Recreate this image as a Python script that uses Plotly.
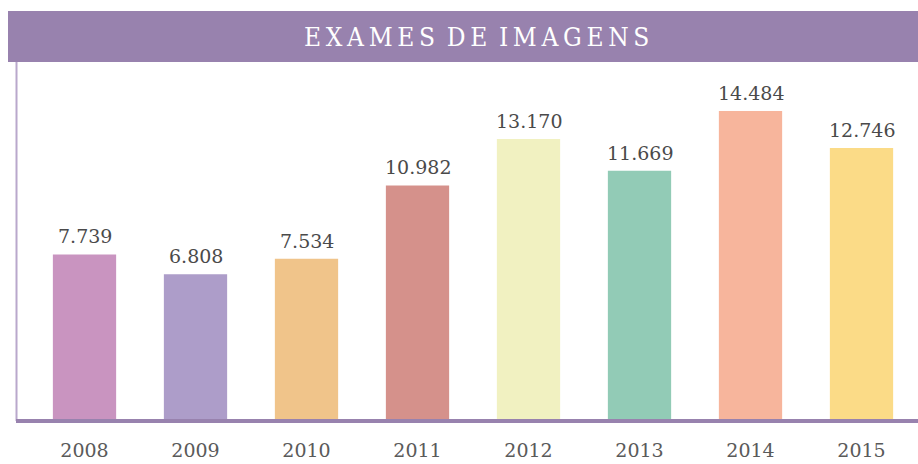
import plotly.graph_objects as go

years = ["2008", "2009", "2010", "2011", "2012", "2013", "2014", "2015"]
values = [7739, 6808, 7534, 10982, 13170, 11669, 14484, 12746]
labels = ["7.739", "6.808", "7.534", "10.982", "13.170", "11.669", "14.484", "12.746"]
colors = ["#c994c0", "#ad9dc9", "#f0c48a", "#d5918b", "#f1f1c1", "#92cbb6", "#f7b59c", "#fbdb87"]
title = "EXAMES DE IMAGENS"

W, H = 918, 464
ml, mr, mt, mb = 29, 1, 62, 45

fig = go.Figure()
fig.add_trace(go.Bar(
    x=years, y=values, marker=dict(color=colors, line=dict(width=0)),
    width=0.57, hoverinfo="skip",
))

for i, (v, lab) in enumerate(zip(values, labels)):
    fig.add_annotation(x=i, y=v, xref="x", yref="y", text=lab, showarrow=False,
                       yanchor="bottom", yshift=5,
                       font=dict(family="DejaVu Serif", size=19, color="#4a4a4a"))

pw = W - ml - mr
ph = H - mt - mb
# title band
fig.add_shape(type="rect", xref="paper", yref="paper",
              x0=(8 - ml) / pw, x1=(W - ml) / pw, y0=1, y1=1 + 51 / ph,
              fillcolor="#9882ae", line=dict(width=0), layer="below")
spaced = "\u2009".join(title).replace("\u2009 \u2009", "\u2002")
fig.add_annotation(xref="paper", yref="paper", x=(477 - ml) / pw, y=1 + 25 / ph,
                   text=spaced, showarrow=False, yanchor="middle",
                   font=dict(family="DejaVu Serif Condensed", size=26, color="white"))
# left line
fig.add_shape(type="line", xref="paper", yref="paper",
              x0=(16.5 - ml) / pw, x1=(16.5 - ml) / pw, y0=-2 / ph, y1=1,
              line=dict(color="#b9a8cc", width=2))
# baseline
fig.add_shape(type="line", xref="paper", yref="paper",
              x0=(16 - ml) / pw, x1=1.01, y0=-2 / ph, y1=-2 / ph,
              line=dict(color="#9882ae", width=4))

fig.update_layout(
    width=W, height=H, margin=dict(l=ml, r=mr, t=mt, b=mb),
    plot_bgcolor="white", paper_bgcolor="white", showlegend=False,
    xaxis=dict(type="category", showgrid=False, zeroline=False, showline=False, ticks="",
               tickfont=dict(family="DejaVu Serif", size=19, color="#5a5a5a"),
               ticklabelstandoff=18, range=[-0.5, 7.5]),
    yaxis=dict(range=[0, 16785], visible=False),
)

fig.write_html("out.html", post_script="document.body.style.margin='0';",
               config={"displayModeBar": False})
